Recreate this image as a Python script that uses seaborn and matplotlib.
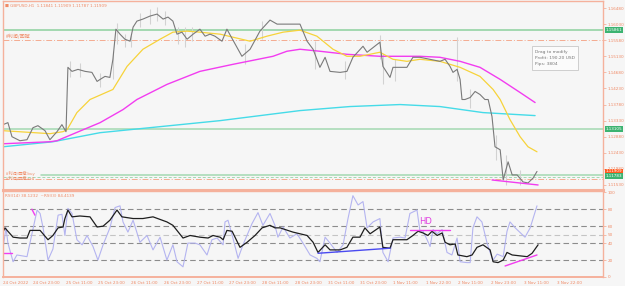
import numpy as np
import pandas as pd
import matplotlib
matplotlib.use("Agg")
import matplotlib.pyplot as plt
import matplotlib.transforms as mtransforms
import seaborn as sns

# ---------------- data (bar index = hours since chart start) ----------------
close_bar = [0, 1.8, 3.3, 6.2, 8.8, 11.0, 12.8, 15.4, 17.2, 19.8, 21.6, 23.1, 23.8, 25.3, 27.5,
             30.1, 32.6, 34.5, 35.6, 37.4, 39.2, 40.3, 41.4, 42.9, 44.7, 46.6, 47.7, 49.1, 51.3,
             53.9, 56.5, 58.7, 60.5, 62.3, 63.8, 65.6, 67.5, 69.7, 72.2, 74.1, 75.9, 77.7, 80.3,
             82.1, 87.6, 90.6, 94.2, 97.9, 100.5, 104.1, 108.9, 111.5, 113.7, 116.2, 118.1, 119.9,
             123.6, 126.1, 128.3, 132.0, 133.5, 138.2, 139.3, 141.9, 143.0, 148.1, 150.3, 152.9,
             160.2, 162.1, 163.9, 165.0, 166.5, 167.6, 168.3, 169.4, 171.3, 173.1, 174.9, 176.7,
             177.9, 179.3, 180.4, 182.3, 183.4, 185.2, 186.7, 188.5, 190.7, 192.5, 194.4, 195.8]
close_px = [1.13218, 1.13274, 1.12880, 1.12768, 1.12796, 1.13133, 1.13189, 1.13049, 1.12796, 1.13021,
            1.13218, 1.13021, 1.14821, 1.14708, 1.14764, 1.14708, 1.14680, 1.14427, 1.14483, 1.14568,
            1.14539, 1.15046, 1.15889, 1.15749, 1.15608, 1.15552, 1.15946, 1.16114, 1.16171, 1.16255,
            1.16311, 1.16171, 1.16227, 1.16114, 1.15749, 1.15805, 1.15608, 1.15749, 1.15889, 1.15693,
            1.15749, 1.15693, 1.15552, 1.15889, 1.15130, 1.15327, 1.15833, 1.16143, 1.16030, 1.16030,
            1.16030, 1.15552, 1.15327, 1.14821, 1.15102, 1.14708, 1.14680, 1.14708, 1.15102, 1.15411,
            1.15243, 1.15524, 1.14849, 1.14539, 1.14821, 1.14821, 1.15102, 1.15102, 1.14989, 1.15046,
            1.14849, 1.14680, 1.14764, 1.14483, 1.13921, 1.13921, 1.13977, 1.14146, 1.14061, 1.13921,
            1.13921, 1.13443, 1.12599, 1.12514, 1.11671, 1.12177, 1.11811, 1.11811, 1.11614, 1.11586,
            1.11727, 1.11909]

# visible candle wicks (high / low)
wick_bar = [24.6, 28.2, 35.6, 40.3, 41.8, 44.7, 46.9, 50.2, 53.9, 56.5, 59.4, 64.2, 66.7, 69.3,
            88.7, 95.0, 114.4, 125.4, 138.2, 139.3, 143.7, 166.5, 171.3, 180.8, 184.4, 189.6]
wick_hi = [1.14989, 1.14933, 1.14652, 1.15271, 1.16058, 1.15749, 1.15721, 1.16339, 1.16452, 1.16508,
           1.16396, 1.15946, 1.15946, 1.15946, 1.15468, 1.16114, 1.15552, 1.14989, 1.15721, 1.15186,
           1.15046, 1.15664, 1.14202, 1.12936, 1.12374, 1.11952]
wick_lo = [1.14539, 1.14539, 1.14258, 1.14483, 1.15468, 1.15383, 1.15383, 1.15946, 1.16030, 1.16114,
           1.16002, 1.15468, 1.15383, 1.15552, 1.14905, 1.15608, 1.14764, 1.14483, 1.15046, 1.14342,
           1.14427, 1.14427, 1.13696, 1.12233, 1.11530, 1.11530]

ma_fast_bar = [0, 17.2, 22, 23.5, 27.1, 31.9, 40.3, 45.5, 51.3, 57.6, 62.3, 67.5, 72.2, 79.6, 90.6,
               96.8, 102.7, 108.9, 115.1, 121.0, 126.1, 130.9, 138.2, 143.0, 148.1, 152.9, 160.2,
               167.6, 174.9, 179.7, 182.3, 185.9, 189.6, 192.5, 195.8]
ma_fast = [1.13049, 1.12965, 1.13021, 1.13077, 1.13555, 1.13921, 1.14202, 1.14849, 1.15327, 1.15608,
           1.15805, 1.15833, 1.15805, 1.15749, 1.15552, 1.15693, 1.15805, 1.15861, 1.15693, 1.15327,
           1.15130, 1.15130, 1.15243, 1.15046, 1.14989, 1.15046, 1.14989, 1.14821, 1.14568, 1.14202,
           1.13921, 1.13358, 1.12880, 1.12599, 1.12458]

ma_mid_bar = [0, 17.2, 19.8, 35.6, 44.0, 49.1, 60.1, 72.2, 84.3, 99.0, 104.1, 108.9, 116.2, 126.1,
              138.2, 152.9, 160.2, 167.6, 174.9, 182.3, 189.6, 195.1]
ma_mid = [1.12683, 1.12739, 1.12768, 1.13274, 1.13639, 1.13921, 1.14343, 1.14708, 1.14905, 1.15130,
          1.15271, 1.15327, 1.15271, 1.15186, 1.15130, 1.15130, 1.15102, 1.14989, 1.14821, 1.14483,
          1.14117, 1.13836]

ma_slow_bar = [0, 18.3, 35.6, 79.6, 108.9, 127.2, 145.6, 160.2, 176.0, 195.1]
ma_slow = [1.12599, 1.12739, 1.12993, 1.13330, 1.13611, 1.13724, 1.13780, 1.13724, 1.13555, 1.13471]

rsi14_bar = [0, 0.7, 3.7, 6.2, 8.8, 9.9, 13.6, 16.5, 18.3, 20.2, 22, 22.7, 23.8, 25.3, 28.2, 31.9,
             34.5, 36.7, 39.2, 41.8, 43.6, 47.7, 51.3, 55, 60.1, 62.3, 66, 68.6, 72.2, 75.2, 77,
             79.6, 80.7, 82.1, 84, 86.9, 89.5, 92.4, 95, 97.9, 99.7, 101.6, 106.3, 108.9, 111.5,
             113.7, 115.5, 118.1, 119.9, 123.6, 126.1, 128.3, 130.9, 132.7, 134.6, 138.2, 139.3,
             141.9, 143, 148.1, 150.3, 152.2, 154, 155.8, 157.3, 159.2, 161, 162.1, 163.9, 165.8,
             166.8, 170.1, 172, 173.8, 176, 178.6, 179.7, 181.5, 183.4, 184.8, 186.7, 192.2, 194,
             196.2]
rsi14 = [53, 58, 47, 46, 46, 55, 55, 44, 49, 58, 59, 69, 79, 71, 72, 71, 59, 60, 67, 79, 71, 69, 69,
         71, 65, 61, 46, 49, 47, 46, 49, 47, 44, 55, 54, 35, 41, 49, 58, 61, 58, 58, 53, 51, 49, 41,
         29, 38, 32, 32, 35, 47, 47, 58, 51, 59, 35, 34, 44, 44, 49, 54, 52, 49, 54, 49, 52, 41, 38,
         39, 26, 24, 26, 35, 38, 32, 18, 17, 20, 29, 26, 24, 28, 38]

rsi3_bar = [0, 1.1, 1.8, 3.7, 5.1, 8.8, 12.5, 13.6, 14.7, 16.5, 18.3, 20.2, 21.6, 22.7, 23.8, 25.3,
            27.1, 29, 30.8, 33, 34.8, 36.7, 39.2, 41.1, 42.9, 44, 45.8, 47.7, 50.2, 52.8, 55, 57.6,
            60.1, 62.3, 63.8, 66, 67.8, 70.4, 72.2, 74.8, 76.6, 78.5, 80.7, 81.4, 82.5, 84.3, 86.2,
            88, 91.3, 93.5, 95.3, 97.9, 99.7, 100.8, 102.7, 105.2, 107.8, 110, 112.6, 115.1, 116.2,
            118.1, 119.9, 122.5, 124.7, 126.5, 128.3, 130.2, 132, 133.5, 135.7, 138.2, 139.3, 141.2,
            143, 145.6, 147.4, 149.2, 151.8, 152.9, 154, 155.5, 156.6, 157.7, 159.2, 161, 162.8,
            164.6, 166.5, 167.6, 170.1, 171.3, 172.3, 173.8, 175.6, 177.5, 178.6, 179.7, 181.2,
            183.4, 184.8, 185.9, 187.8, 191.4, 193.3, 195.8]
rsi3 = [34, 58, 40, 18, 26, 24, 79, 75, 58, 20, 33, 73, 74, 49, 81, 75, 44, 38, 49, 36, 20, 38, 58,
        82, 84, 65, 53, 67, 41, 49, 32, 47, 20, 38, 18, 12, 40, 40, 38, 26, 44, 46, 38, 65, 67, 46,
        22, 38, 63, 76, 61, 75, 61, 47, 59, 46, 51, 40, 26, 22, 18, 47, 40, 29, 38, 69, 96, 85, 89,
        58, 65, 69, 29, 18, 46, 47, 46, 75, 79, 54, 54, 44, 36, 56, 51, 56, 29, 26, 46, 18, 17, 17,
        58, 71, 65, 40, 29, 20, 27, 24, 54, 65, 58, 47, 58, 84]

price_ticks = [1.16480, 1.16030, 1.15580, 1.15130, 1.14680, 1.14230, 1.13780, 1.13330, 1.12880,
               1.12430, 1.11980, 1.11530]
rsi_ticks = [0, 20, 40, 50, 60, 80, 100]
time_tick_bars = [0, 11, 23, 35, 47, 59, 71, 83, 95, 107, 119, 131, 143, 155, 167, 179, 191, 203]
time_tick_labels = ["24 Oct 2022", "24 Oct 23:00", "25 Oct 11:00", "25 Oct 23:00", "26 Oct 11:00",
                    "26 Oct 23:00", "27 Oct 11:00", "27 Oct 23:00", "28 Oct 11:00", "28 Oct 23:00",
                    "31 Oct 11:00", "31 Oct 23:00", "1 Nov 11:00", "1 Nov 22:00", "2 Nov 11:00",
                    "2 Nov 23:00", "3 Nov 11:00", "3 Nov 22:00"]

level_green_top = 1.15861
level_orange_top = 1.15580
level_green_mid = 1.13105
level_green_low = 1.11811
level_green_low_dash = 1.11755
level_orange_low = 1.11699
last_close = 1.11909
low_box = 1.11783

div_price_bar = [179.3, 196.2]
div_price = [1.11670, 1.11530]
div_rsi_blue_bar = [115.5, 141.9]
div_rsi_blue = [28, 34]
div_rsi_hd_bar = [149.2, 163.9]
div_rsi_hd = [55, 55]
div_rsi_up_bar = [184.1, 195.8]
div_rsi_up = [13, 26]
div_rsi_a_bar = [0, 3.3]
div_rsi_a = [28, 28]
div_rsi_b_bar = [10.6, 11.7]
div_rsi_b = [80, 73]

# ---------------- style ----------------
sns.set_theme(style="white")
plt.rcParams['font.family'] = ['DejaVu Sans']
BG = "#f6f6f6"
SALMON = "#f5b19c"
TXT = "#f08a66"
FS = 3.0

W, H = 625, 286
fig = plt.figure(figsize=(W / 100, H / 100), dpi=100, facecolor=BG)


def rect(x0, y0, x1, y1):
    return [x0 / W, 1 - y1 / H, (x1 - x0) / W, (y1 - y0) / H]


ax = fig.add_axes(rect(3, 1, 603, 190))
ax2 = fig.add_axes(rect(3, 191, 603, 277))
for a in (ax, ax2):
    a.set_facecolor(BG)
    a.set_xlim(0, 220)
    for s in a.spines.values():
        s.set_color(SALMON)
        s.set_linewidth(1.0)
ax.spines['bottom'].set_linewidth(2.2)
ax2.spines['top'].set_linewidth(1.0)
ax2.spines['bottom'].set_linewidth(1.4)

ax.set_ylim(1.113894, 1.166769)
ax2.set_ylim(0, 101.5)

# ---- main panel ----
ax.axhline(level_green_top, color="#a3d9b1", lw=1.4, zorder=1)
ax.axhline(level_orange_top, color="#f4ab90", lw=0.7, ls=(0, (6, 2, 1, 2)), zorder=1)
ax.axhline(level_green_mid, color="#a3d9b1", lw=1.1, zorder=1)
ax.plot([14, 220], [level_green_low] * 2, color="#a3d9b1", lw=1.1, zorder=1)
ax.axhline(level_green_low_dash, color="#a3d9b1", lw=0.7, ls=(0, (3, 2)), zorder=1)
ax.axhline(level_orange_low, color="#f4ab90", lw=0.7, ls=(0, (6, 2, 1, 2)), zorder=1)

ax.vlines(wick_bar, wick_lo, wick_hi, color="#d2d2d2", lw=0.8, zorder=2)
sns.lineplot(x=ma_slow_bar, y=ma_slow, ax=ax, color="#45dbe8", lw=1.0, estimator=None, sort=False)
sns.lineplot(x=ma_mid_bar, y=ma_mid, ax=ax, color="#f23cf0", lw=1.0, estimator=None, sort=False)
sns.lineplot(x=ma_fast_bar, y=ma_fast, ax=ax, color="#f7d33a", lw=0.9, estimator=None, sort=False)
sns.lineplot(x=close_bar, y=close_px, ax=ax, color="#7a7a7a", lw=0.8, estimator=None, sort=False)
sns.lineplot(x=div_price_bar, y=div_price, ax=ax, color="#f23cf0", lw=1.0, estimator=None, sort=False)

ax.set_xticks([])
ax.yaxis.tick_right()
ax.set_yticks(price_ticks)
ax.set_yticklabels([f"{v:.5f}" for v in price_ticks])
ax.tick_params(axis='y', colors=SALMON, labelcolor=TXT, labelsize=FS, length=2, width=0.6, pad=1.5)
ax.set_xlabel("")
ax.set_ylabel("")

blend = mtransforms.blended_transform_factory(ax.transAxes, ax.transData)
for val, fc in [(level_green_top, "#3cb371"), (level_green_mid, "#3cb371"),
                (last_close, "#ff5a1f"), (low_box, "#3cb371")]:
    ax.text(1.005, val, f"{val:.5f}", transform=blend, fontsize=FS, color="white",
            va="center", ha="left",
            bbox=dict(boxstyle="square,pad=0.2", fc=fc, ec="none"), zorder=5, clip_on=False)

ax.text(0.003, 0.985, "■ GBPUSD,H1  1.11841 1.11909 1.11787 1.11909", transform=ax.transAxes,
        fontsize=FS, color=TXT, va="top", ha="left")
cjk = ['Noto Sans CJK SC', 'DejaVu Sans']
ax.text(1.0, level_orange_top + 0.0003, "#利润/回撤", family=cjk, fontsize=3.6, color=TXT,
        va="bottom", ha="left")
ax.text(1.0, level_green_low + 0.0003, "#利润/回撤 buy", family=cjk, fontsize=3.0, color=TXT,
        va="center", ha="left")
ax.text(1.0, level_orange_low + 0.0002, "#利润/回撤 sell", family=cjk, fontsize=3.0, color=TXT,
        va="center", ha="left")

fig.text(535 / W, 1 - 58 / H, "Drag to modify\nProfit: 190.20 USD\nPips: 3804", fontsize=3.2,
         color="#777777", va="center", ha="left", linespacing=1.8,
         bbox=dict(boxstyle="square,pad=0.7", fc="#fbfbfb", ec="#c8c8c8", lw=0.6))

# ---- RSI panel ----
for lv, col in [(80, "#8c8c8c"), (60, "#8c8c8c"), (50, "#c4c4c4"), (40, "#8c8c8c"), (20, "#8c8c8c")]:
    ax2.axhline(lv, color=col, lw=0.8, ls=(0, (5, 3)), zorder=1)

sns.lineplot(x=rsi3_bar, y=rsi3, ax=ax2, color="#b4b4f0", lw=0.8, estimator=None, sort=False)
sns.lineplot(x=rsi14_bar, y=rsi14, ax=ax2, color="#1e1e1e", lw=0.9, estimator=None, sort=False)
sns.lineplot(x=div_rsi_blue_bar, y=div_rsi_blue, ax=ax2, color="#4a4af0", lw=1.0, estimator=None, sort=False)
sns.lineplot(x=div_rsi_hd_bar, y=div_rsi_hd, ax=ax2, color="#f23cf0", lw=1.0, estimator=None, sort=False)
sns.lineplot(x=div_rsi_up_bar, y=div_rsi_up, ax=ax2, color="#f23cf0", lw=1.0, estimator=None, sort=False)
sns.lineplot(x=div_rsi_a_bar, y=div_rsi_a, ax=ax2, color="#f23cf0", lw=1.0, estimator=None, sort=False)
sns.lineplot(x=div_rsi_b_bar, y=div_rsi_b, ax=ax2, color="#f23cf0", lw=1.0, estimator=None, sort=False)
ax2.text(155, 65, "HD", fontsize=6, color="#e040e0", ha="center", va="center")

ax2.text(0.003, 0.97, "RSI(14) 38.1232  ~RSI(3) 84.4139", transform=ax2.transAxes,
         fontsize=FS, color=TXT, va="top", ha="left")

ax2.yaxis.tick_right()
ax2.set_yticks(rsi_ticks)
ax2.set_yticklabels([str(v) for v in rsi_ticks])
ax2.tick_params(axis='y', colors=SALMON, labelcolor=TXT, labelsize=FS, length=2, width=0.6, pad=1.5)
ax2.set_xticks(time_tick_bars)
ax2.set_xticklabels(time_tick_labels)
ax2.tick_params(axis='x', colors=SALMON, labelcolor=TXT, labelsize=FS, length=2, width=0.6, pad=1)
for lab in ax2.get_xticklabels():
    lab.set_horizontalalignment('left')
ax2.set_xlabel("")
ax2.set_ylabel("")

fig.savefig("out.png", dpi=100, facecolor=BG)
